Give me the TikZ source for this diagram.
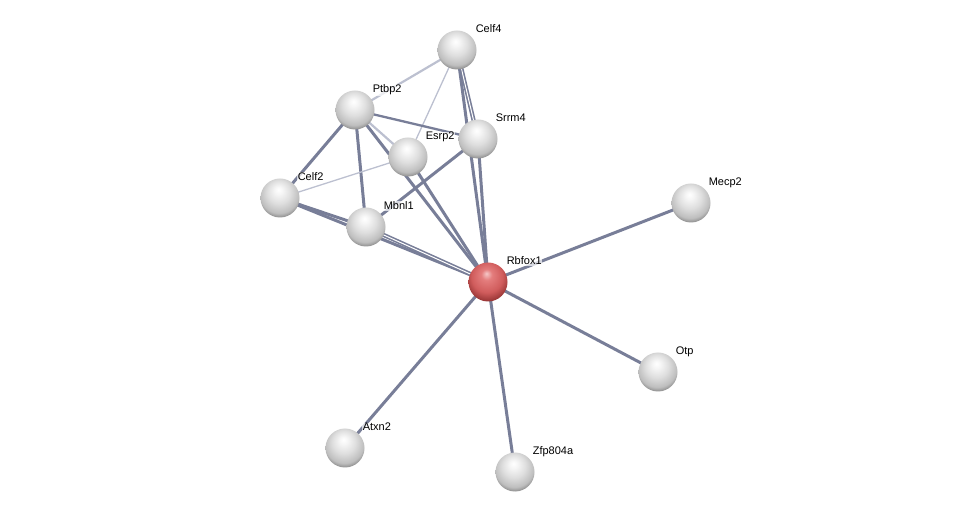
\documentclass[tikz,border=0pt]{standalone}
\usepackage{fontspec}
\setmainfont{Liberation Sans}
\usetikzlibrary{backgrounds}
\definecolor{edgedark}{RGB}{120,126,152}
\definecolor{edgelight}{RGB}{188,192,208}
\definecolor{sphA}{RGB}{246,246,246}
\definecolor{sphB}{RGB}{222,222,222}
\definecolor{sphC}{RGB}{190,190,190}
\definecolor{sphD}{RGB}{125,125,125}
\definecolor{redA}{RGB}{245,200,200}
\definecolor{redB}{RGB}{228,125,125}
\definecolor{redC}{RGB}{208,92,92}
\definecolor{redD}{RGB}{140,45,45}
\pgfdeclareradialshading{graysphere}{\pgfqpoint{-2bp}{11bp}}{color(0bp)=(white); color(5bp)=(sphA); color(15bp)=(sphB); color(25bp)=(sphC); color(31bp)=(sphD); color(50bp)=(sphD)}
\pgfdeclareradialshading{redsphere}{\pgfqpoint{-2bp}{11bp}}{color(0bp)=(redA); color(7bp)=(redB); color(20bp)=(redC); color(31bp)=(redD); color(50bp)=(redD)}
\tikzset{
  prot/.style={circle, minimum size=39pt, inner sep=0pt, shading=graysphere},
  protred/.style={circle, minimum size=39pt, inner sep=0pt, shading=redsphere},
  lbl/.style={anchor=base west, font=\fontsize{11}{13}\selectfont, fill=white, fill opacity=0.7, text opacity=1, inner sep=0.6pt},
  edark/.style={draw=edgedark, line width=3pt},
  emid/.style={draw=edgedark, line width=2.3pt},
  elight/.style={draw=edgelight, line width=2.2pt},
  ethin/.style={draw=edgelight, line width=1.3pt},
  edouble/.style={draw=edgedark, double=white, double distance=1pt, line width=1.6pt}
}
\begin{document}
\begin{tikzpicture}[x=1pt,y=-1pt]
\useasboundingbox (0,0) rectangle (975,518);
% nodes
\node[prot] (celf4) at (457,50) {};
\node[prot] (ptbp2) at (355,110) {};
\node[prot] (srrm4) at (478,139) {};
\node[prot] (esrp2) at (408,157) {};
\node[prot] (celf2) at (280,198) {};
\node[prot] (mbnl1) at (366,227) {};
\node[prot] (mecp2) at (691,203) {};
\node[protred] (rbfox1) at (488,282) {};
\node[prot] (otp) at (658,372) {};
\node[prot] (atxn2) at (345,448) {};
\node[prot] (zfp) at (515,472) {};
% edges
\begin{pgfonlayer}{background}
\draw[elight] (celf4.center) -- (ptbp2.center);
\draw[ethin] (celf4.center) -- (esrp2.center);
\draw[edouble] (celf4.center) -- (srrm4.center);
\draw[edark] (celf4.center) -- (rbfox1.center);
\draw[emid] (ptbp2.center) -- (srrm4.center);
\draw[elight] (ptbp2.center) -- (esrp2.center);
\draw[edark] (ptbp2.center) -- (rbfox1.center);
\draw[edark] (ptbp2.center) -- (celf2.center);
\draw[edark] (ptbp2.center) -- (mbnl1.center);
\draw[ethin] (esrp2.center) -- (celf2.center);
\draw[edark] (esrp2.center) -- (rbfox1.center);
\draw[edark] (srrm4.center) -- (mbnl1.center);
\draw[edark] (srrm4.center) -- (rbfox1.center);
\draw[edark] (celf2.center) -- (mbnl1.center);
\draw[edark] (celf2.center) -- (rbfox1.center);
\draw[edouble] (mbnl1.center) -- (rbfox1.center);
\draw[edark] (rbfox1.center) -- (mecp2.center);
\draw[edark] (rbfox1.center) -- (otp.center);
\draw[edark] (rbfox1.center) -- (atxn2.center);
\draw[edark] (rbfox1.center) -- (zfp.center);
\end{pgfonlayer}
% labels
\node[lbl] (lcelf4) at ([shift={(18pt,17pt)}]celf4.center) {Celf4};
\node[lbl] (lptbp2) at ([shift={(17pt,17pt)}]ptbp2.center) {Ptbp2};
\node[lbl] (lsrrm4) at ([shift={(17pt,17pt)}]srrm4.center) {Srrm4};
\node[lbl] (lesrp2) at ([shift={(17pt,17pt)}]esrp2.center) {Esrp2};
\node[lbl] (lcelf2) at ([shift={(17pt,17pt)}]celf2.center) {Celf2};
\node[lbl] (lmbnl1) at ([shift={(17pt,17pt)}]mbnl1.center) {Mbnl1};
\node[lbl] (lmecp2) at ([shift={(17pt,17pt)}]mecp2.center) {Mecp2};
\node[lbl] (lrbfox1) at ([shift={(18pt,17pt)}]rbfox1.center) {Rbfox1};
\node[lbl] (lotp) at ([shift={(17pt,17pt)}]otp.center) {Otp};
\node[lbl] (latxn2) at ([shift={(17pt,17pt)}]atxn2.center) {Atxn2};
\node[lbl] (lzfp) at ([shift={(17pt,17pt)}]zfp.center) {Zfp804a};
\end{tikzpicture}
\end{document}
